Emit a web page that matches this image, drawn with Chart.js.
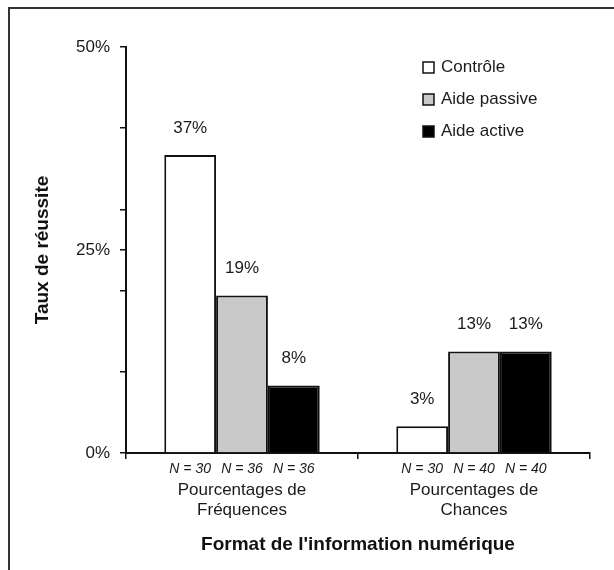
<!DOCTYPE html>
<html>
<head>
<meta charset="utf-8">
<script src="https://cdn.jsdelivr.net/npm/chart.js@4.4.0/dist/chart.umd.min.js"></script>
<style>
  html, body { margin: 0; padding: 0; background: #fff; }
  #wrap { position: relative; width: 614px; height: 570px; }
  #frame { position: absolute; left: 8px; top: 7px; right: 0; bottom: 0;
           border-top: 2px solid #333; border-left: 2px solid #333; pointer-events: none; }
  canvas { position: absolute; left: 0; top: 0; }
</style>
</head>
<body>
<div id="wrap">
  <canvas id="mainChart" width="614" height="570"></canvas>
  <div id="frame"></div>
</div>
<script>
const categories = [["Pourcentages de", "Fréquences"], ["Pourcentages de", "Chances"]];
const seriesNames = ["Contrôle", "Aide passive", "Aide active"];
const controle = [36.7, 3.3];
const aidePassive = [19.4, 12.5];
const aideActive = [8.3, 12.5];
const valueLabels = [["37%", "3%"], ["19%", "13%"], ["8%", "13%"]];
const sampleSizes = [["N = 30", "N = 30"], ["N = 36", "N = 40"], ["N = 36", "N = 40"]];
const yTicks = [0, 10, 20, 25, 30, 40, 50];
const yTickLabels = { 0: "0%", 25: "25%", 50: "50%" };

const fills = ["#ffffff", "#c9c9c9", "#000000"];
const FONT = "'Liberation Sans', Arial, sans-serif";
const INK = "#1a1a1a";

// Labels on top of bars, N under each bar, and the legend box
const annotate = {
    id: "annotate",
    afterDatasetsDraw(chart) {
        const ctx = chart.ctx;
        const xAxis = chart.scales.x;
        ctx.save();
        ctx.textAlign = "center";
        ctx.textBaseline = "middle";
        chart.data.datasets.forEach((ds, i) => {
            chart.getDatasetMeta(i).data.forEach((bar, j) => {
                ctx.fillStyle = INK;
                ctx.font = "17px " + FONT;
                ctx.fillText(valueLabels[i][j], bar.x, bar.y - 27);
                ctx.font = "italic 14px " + FONT;
                ctx.fillText(sampleSizes[i][j], bar.x, xAxis.top + 16);
            });
        });

        // legend
        ctx.textAlign = "left";
        ctx.font = "17px " + FONT;
        seriesNames.forEach((name, i) => {
            const y = 67 + i * 32;
            ctx.fillStyle = fills[i];
            ctx.fillRect(423, y - 5, 11, 11);
            ctx.strokeStyle = "#111";
            ctx.lineWidth = 1.5;
            ctx.strokeRect(423, y - 5, 11, 11);
            ctx.fillStyle = INK;
            ctx.fillText(name, 441, y);
        });
        ctx.restore();
    }
};

new Chart(document.getElementById("mainChart"), {
    type: "bar",
    data: {
        labels: categories,
        datasets: [controle, aidePassive, aideActive].map((values, i) => ({
            label: seriesNames[i],
            data: values,
            backgroundColor: fills[i],
            borderColor: "#111",
            borderWidth: 2,
            borderSkipped: "bottom",
            categoryPercentage: 0.67,
            barPercentage: 1.0,
        })),
    },
    options: {
        responsive: false,
        animation: false,
        layout: { padding: { top: 47, right: 24, left: 0, bottom: 0 } },
        plugins: { legend: { display: false }, tooltip: { enabled: false } },
        scales: {
            x: {
                offset: true,
                grid: { offset: true, drawOnChartArea: false, tickLength: 6, color: "#111", lineWidth: 1.5 },
                border: { color: "#111", width: 2 },
                ticks: { color: INK, font: { family: FONT, size: 17, lineHeight: 1.15 }, padding: 22 },
                title: {
                    display: true,
                    text: "Format de l'information numérique",
                    color: "#111",
                    font: { family: FONT, size: 19, weight: "bold" },
                    padding: { top: 0, bottom: 14 },
                },
                afterFit(scale) { scale.height = 117; },
            },
            y: {
                min: 0,
                max: 50,
                afterBuildTicks(scale) { scale.ticks = yTicks.map(v => ({ value: v })); },
                grid: { drawOnChartArea: false, tickLength: 6, color: "#111", lineWidth: 1.5 },
                border: { color: "#111", width: 2 },
                ticks: {
                    color: INK,
                    font: { family: FONT, size: 17 },
                    padding: 10,
                    autoSkip: false,
                    callback: v => yTickLabels[v] || "",
                },
                title: {
                    display: true,
                    text: "Taux de réussite",
                    color: "#111",
                    font: { family: FONT, size: 19, weight: "bold" },
                    padding: { top: 31 },
                },
                afterFit(scale) { scale.width = 126; },
            },
        },
    },
    plugins: [annotate],
});
</script>
</body>
</html>
